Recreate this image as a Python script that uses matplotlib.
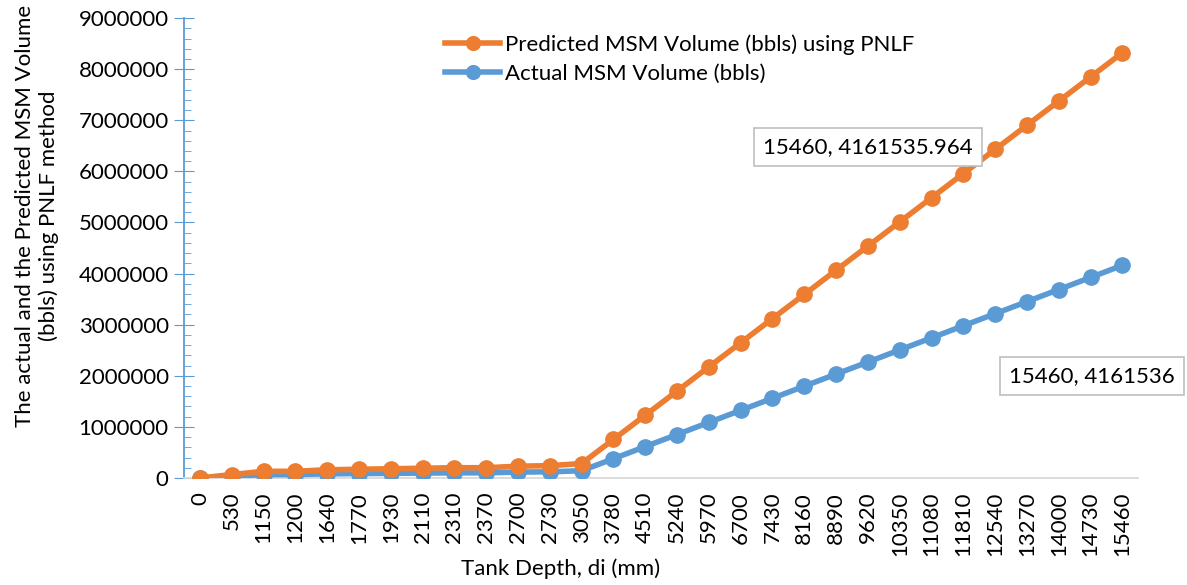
import matplotlib.pyplot as plt
from matplotlib.ticker import MultipleLocator

# tank depth categories (mm)
depths = ["0", "530", "1150", "1200", "1640", "1770", "1930", "2110", "2310", "2370",
          "2700", "2730", "3050", "3780", "4510", "5240", "5970", "6700", "7430", "8160",
          "8890", "9620", "10350", "11080", "11810", "12540", "13270", "14000", "14730", "15460"]

actual = [0, 33000, 65000, 65000, 80000, 85000, 90000, 95000, 100000, 100000,
          115000, 120000, 141000, 377000, 614000, 850000, 1087000, 1323000, 1560000, 1796000,
          2033000, 2269000, 2506000, 2742000, 2979000, 3215000, 3452000, 3688000, 3925000, 4161536]

predicted = [0, 66000, 130000, 130000, 160000, 170000, 180000, 190000, 200000, 200000,
             230000, 240000, 282000, 754000, 1228000, 1700000, 2174000, 2646000, 3120000, 3592000,
             4066000, 4538000, 5012000, 5484000, 5958000, 6430000, 6904000, 7376000, 7850000, 8323072]

plt.rcParams['font.family'] = ['Lato', 'DejaVu Sans']

ORANGE = "#ED7D31"
BLUE = "#5B9BD5"

fig = plt.figure(figsize=(11.87, 5.85), dpi=100)
ax = fig.add_axes([0.155, 0.183, 0.804, 0.786])

x = list(range(len(depths)))
l_act, = ax.plot(x, actual, color=BLUE, lw=4, marker="o", ms=11,
                 label="Actual MSM Volume (bbls)", zorder=3)
l_pred, = ax.plot(x, predicted, color=ORANGE, lw=4, marker="o", ms=11,
                  label="Predicted MSM Volume (bbls) using PNLF", zorder=4)

ax.set_xlim(-0.5, len(depths) - 0.5)
ax.set_ylim(0, 9000000)
ax.set_xticks(x)
ax.set_xticklabels(depths, rotation=90, fontsize=16)
ax.yaxis.set_major_locator(MultipleLocator(1000000))
ax.yaxis.set_minor_locator(MultipleLocator(200000))
ax.ticklabel_format(axis="y", style="plain", useOffset=False)
ax.tick_params(axis="y", which="major", direction="inout", length=14, color=BLUE, labelsize=16, pad=4)
ax.tick_params(axis="y", which="minor", direction="in", length=5, color=BLUE)
ax.tick_params(axis="x", length=0, pad=10)

for s in ["top", "right"]:
    ax.spines[s].set_visible(False)
ax.spines["left"].set_color(BLUE)
ax.spines["left"].set_linewidth(1.3)
ax.spines["bottom"].set_color("#D9D9D9")
ax.spines["bottom"].set_linewidth(1.3)

ax.set_xlabel("Tank Depth, di (mm)", fontsize=16)
ax.xaxis.set_label_coords(0.395, -0.174)
ax.set_ylabel("The actual and the Predicted MSM Volume\n(bbls) using PNLF method", fontsize=16)
ax.yaxis.set_label_coords(-0.131, 0.57)

ax.legend(handles=[l_pred, l_act], loc="upper left", bbox_to_anchor=(0.264, 0.985),
          frameon=False, fontsize=16, handlelength=2.5, handletextpad=0.2,
          labelspacing=0.4, borderaxespad=0, markerscale=0.9)

box = dict(boxstyle="square,pad=0.4", fc="white", ec="#BFBFBF", lw=1.2)
ax.annotate("15460, 4161535.964", xy=(21.0, 6480000), ha="center", va="center",
            fontsize=16, bbox=box, zorder=5)
ax.annotate("15460, 4161536", xy=(28.05, 2000000), ha="center", va="center",
            fontsize=16, bbox=box, zorder=5, annotation_clip=False)

fig.savefig("out.png", dpi=100)
